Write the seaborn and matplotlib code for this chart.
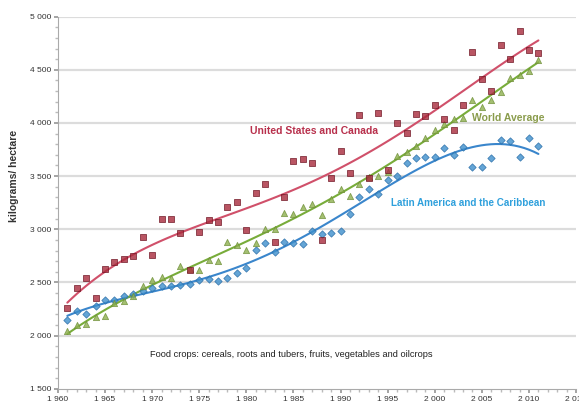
import matplotlib
matplotlib.use("Agg")
import matplotlib.pyplot as plt
from matplotlib.ticker import FuncFormatter, MultipleLocator
import seaborn as sns
import pandas as pd

years = list(range(1961, 2012))

us_canada = [2260, 2447, 2541, 2353, 2628, 2697, 2722, 2753, 2923, 2760,
             3098, 3098, 2964, 2620, 2970, 3089, 3073, 3205, 3255, 2995,
             3340, 3424, 2885, 3302, 3643, 3662, 3628, 2901, 3481, 3732,
             3534, 4076, 3480, 4098, 3559, 3995, 3904, 4080, 4067, 4170,
             4033, 3930, 4170, 4671, 4413, 4304, 4734, 4600, 4867, 4683,
             4662]

world = [2039, 2102, 2108, 2174, 2187, 2306, 2327, 2368, 2462, 2525,
         2556, 2545, 2657, 2625, 2615, 2708, 2705, 2880, 2855, 2805,
         2875, 3003, 3003, 3155, 3140, 3212, 3240, 3130, 3283, 3378,
         3315, 3424, 3490, 3502, 3540, 3690, 3731, 3782, 3860, 3935,
         3990, 4037, 4050, 4220, 4147, 4220, 4290, 4424, 4450, 4490,
         4593]

latin_america = [2149, 2236, 2205, 2280, 2337, 2337, 2375, 2393, 2415, 2447,
                 2462, 2470, 2475, 2490, 2520, 2530, 2518, 2541, 2588, 2635,
                 2803, 2870, 2790, 2885, 2873, 2858, 2984, 2960, 2967, 2988,
                 3145, 3302, 3380, 3333, 3465, 3500, 3622, 3669, 3680, 3680,
                 3763, 3695, 3775, 3590, 3590, 3669, 3838, 3834, 3684, 3860,
                 3787]

df = pd.DataFrame({"year": years, "us": us_canada, "world": world,
                   "latam": latin_america})

sns.set_theme(style="white")
plt.rcParams["font.family"] = ["Liberation Sans Narrow", "Liberation Sans", "DejaVu Sans"]

fig = plt.figure(figsize=(5.79, 4.05), dpi=100)
ax = fig.add_axes([0.100, 0.040, 0.895, 0.919])

# horizontal guide lines
for v in range(2000, 5001, 500):
    ax.axhline(v, color="#dcdcdc", lw=1.6, zorder=0)

# (column, marker, fill, edge, trend colour, marker size, polynomial order)
series = [
    ("latam", "D", "#3d8fcc", "#2a6ea8", "#3a86cc", 14, 4),
    ("world", "^", "#8db04e", "#6f8f38", "#78ac3a", 20, 4),
    ("us", "s", "#a82a3c", "#6e1422", "#d0506a", 20, 4),
]
for col, mk, fc, ec, lc, ms, order in series:
    sns.regplot(data=df, x="year", y=col, order=order, ci=None, ax=ax,
                truncate=True, marker=mk,
                scatter_kws=dict(s=ms, color=fc, edgecolors=ec,
                                 linewidths=0.6, zorder=3),
                line_kws=dict(color=lc, lw=1.5, zorder=2))

ax.set_xlim(1960, 2015)
ax.set_ylim(1500, 5000)
ax.xaxis.set_major_locator(MultipleLocator(5))
ax.xaxis.set_minor_locator(MultipleLocator(1))
ax.yaxis.set_major_locator(MultipleLocator(500))
ax.yaxis.set_minor_locator(MultipleLocator(100))
fmt = FuncFormatter(lambda v, p: f"{int(round(v)):,}".replace(",", " "))
ax.xaxis.set_major_formatter(fmt)
ax.yaxis.set_major_formatter(fmt)
ax.tick_params(axis="both", which="major", labelsize=6, length=3,
               color="#999999", labelcolor="#333333", pad=2,
               bottom=True, left=True)
ax.tick_params(axis="both", which="minor", length=2, color="#bbbbbb",
               bottom=True, left=True)

for side in ["top", "right"]:
    ax.spines[side].set_visible(False)
for side in ["left", "bottom"]:
    ax.spines[side].set_color("#aaaaaa")
    ax.spines[side].set_linewidth(0.8)

ax.set_xlabel("")
ax.set_ylabel("")
fig.text(0.024, 0.565, "kilograms/ hectare", rotation=90, ha="center",
         va="center", fontsize=7.5, fontweight="bold", color="#333333")

ax.text(1980.35, 3926, "United States and Canada", fontsize=7.5,
        fontweight="bold", color="#b8304c", va="center")
ax.text(2004.0, 4047, "World Average", fontsize=7.5, fontweight="bold",
        color="#8a9c4c", va="center")
ax.text(1995.4, 3246, "Latin America and the Caribbean", fontsize=7.1,
        fontweight="bold", color="#2fa0dc", va="center")
ax.text(1969.8, 1820, "Food crops: cereals, roots and tubers, fruits, "
        "vegetables and oilcrops", fontsize=6.7, color="#222222",
        va="center")

fig.savefig("out.png", dpi=100)
